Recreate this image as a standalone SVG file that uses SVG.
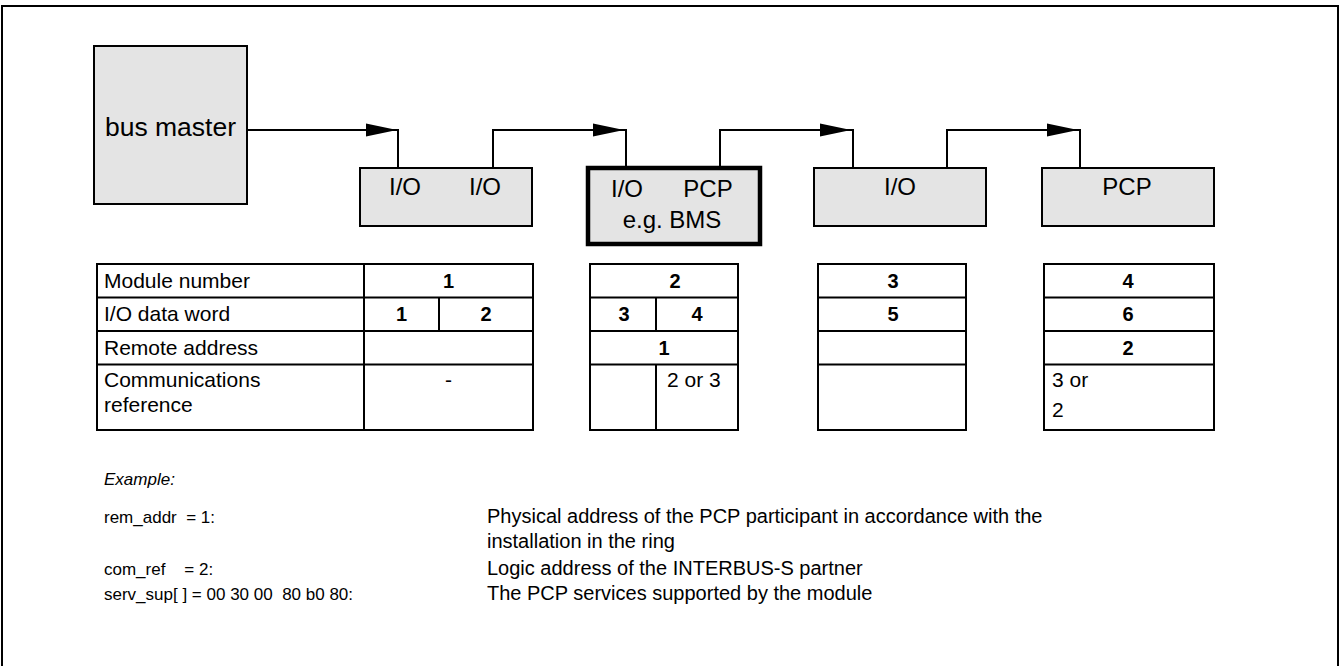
<svg xmlns="http://www.w3.org/2000/svg" width="1340" height="666" viewBox="0 0 1340 666">
  <style>
    text { font-family: "Liberation Sans", Arial, sans-serif; fill: #000; }
    .box { fill: #e4e4e4; stroke: #000; stroke-width: 2; }
    .box-bold { fill: #e4e4e4; stroke: #000; stroke-width: 4.5; }
    .lbl { font-size: 24px; text-anchor: middle; }
    .wire { fill: none; stroke: #000; stroke-width: 2; }
    .tbl { fill: none; stroke: #000; stroke-width: 2; }
    .cell { font-size: 21px; }
    .num { font-size: 20px; font-weight: bold; text-anchor: middle; }
    .key { font-size: 17px; }
    .note { font-size: 20px; }
  </style>
  <defs>
    <polygon id="arrowhead" points="0,0 -31,-6.5 -31,6.5" fill="#000"/>
  </defs>

  <rect width="1340" height="666" fill="#fff"/>
  <!-- page frame -->
  <rect x="2" y="6" width="1336" height="700" fill="none" stroke="#000" stroke-width="2"/>

  <!-- ring connectors -->
  <g id="connectors">
    <path class="wire" d="M247,130 H398 V168"/>
    <use href="#arrowhead" x="397" y="130"/>
    <path class="wire" d="M493,168 V130 H626 V168"/>
    <use href="#arrowhead" x="624" y="130"/>
    <path class="wire" d="M720,168 V130 H853 V168"/>
    <use href="#arrowhead" x="851" y="130"/>
    <path class="wire" d="M947,168 V130 H1080 V168"/>
    <use href="#arrowhead" x="1078" y="130"/>
  </g>

  <g id="bus-master">
    <rect class="box" x="94" y="46" width="153" height="158"/>
    <text x="170.5" y="136" class="lbl" style="font-size:26.5px">bus master</text>
  </g>

  <g id="module-1">
    <rect class="box" x="360" y="168" width="172" height="58"/>
    <text x="405" y="195" class="lbl">I/O</text>
    <text x="485" y="195" class="lbl">I/O</text>
  </g>

  <g id="module-2">
    <rect class="box-bold" x="588" y="168" width="172" height="76"/>
    <text x="627" y="197" class="lbl">I/O</text>
    <text x="708" y="197" class="lbl">PCP</text>
    <text x="672" y="228" class="lbl">e.g. BMS</text>
  </g>

  <g id="module-3">
    <rect class="box" x="814" y="168" width="172" height="58"/>
    <text x="900" y="195" class="lbl">I/O</text>
  </g>

  <g id="module-4">
    <rect class="box" x="1042" y="168" width="172" height="58"/>
    <text x="1127" y="195" class="lbl">PCP</text>
  </g>

  <!-- address table, module 1 with row captions -->
  <g id="table-1">
    <rect class="tbl" x="97" y="264" width="436" height="166"/>
    <path class="tbl" d="M364,264 V430 M97,297.5 H533 M97,331 H533 M97,364.5 H533 M439,297.5 V331"/>
    <text x="104" y="288" class="cell">Module number</text>
    <text x="104" y="321" class="cell">I/O data word</text>
    <text x="104" y="355" class="cell">Remote address</text>
    <text x="104" y="387" class="cell">Communications</text>
    <text x="104" y="412" class="cell">reference</text>
    <text x="448.5" y="288" class="num">1</text>
    <text x="401.5" y="321" class="num">1</text>
    <text x="486" y="321" class="num">2</text>
    <text x="448.5" y="387" class="cell" text-anchor="middle">-</text>
  </g>

  <g id="table-2">
    <rect class="tbl" x="590" y="264" width="148" height="166"/>
    <path class="tbl" d="M590,297.5 H738 M590,331 H738 M590,364.5 H738 M656,297.5 V331 M656,364.5 V430"/>
    <text x="675" y="288" class="num">2</text>
    <text x="624" y="321" class="num">3</text>
    <text x="697" y="321" class="num">4</text>
    <text x="664" y="355" class="num">1</text>
    <text x="667" y="387" class="cell">2 or 3</text>
  </g>

  <g id="table-3">
    <rect class="tbl" x="818" y="264" width="148" height="166"/>
    <path class="tbl" d="M818,297.5 H966 M818,331 H966 M818,364.5 H966"/>
    <text x="893" y="288" class="num">3</text>
    <text x="893" y="321" class="num">5</text>
  </g>

  <g id="table-4">
    <rect class="tbl" x="1044" y="264" width="170" height="166"/>
    <path class="tbl" d="M1044,297.5 H1214 M1044,331 H1214 M1044,364.5 H1214"/>
    <text x="1128" y="288" class="num">4</text>
    <text x="1128" y="321" class="num">6</text>
    <text x="1128" y="355" class="num">2</text>
    <text x="1052" y="387" class="cell">3 or</text>
    <text x="1052" y="417" class="cell">2</text>
  </g>

  <!-- worked example -->
  <g id="example">
    <text x="104" y="485" class="key" font-style="italic">Example:</text>
    <text x="104" y="523" class="key" xml:space="preserve">rem_addr  = 1:</text>
    <text x="487" y="523" class="note">Physical address of the PCP participant in accordance with the</text>
    <text x="487" y="548" class="note">installation in the ring</text>
    <text x="104" y="575" class="key" xml:space="preserve">com_ref    = 2:</text>
    <text x="487" y="575" class="note">Logic address of the INTERBUS-S partner</text>
    <text x="104" y="600" class="key" xml:space="preserve">serv_sup[ ] = 00 30 00  80 b0 80:</text>
    <text x="487" y="600" class="note">The PCP services supported by the module</text>
  </g>
</svg>
